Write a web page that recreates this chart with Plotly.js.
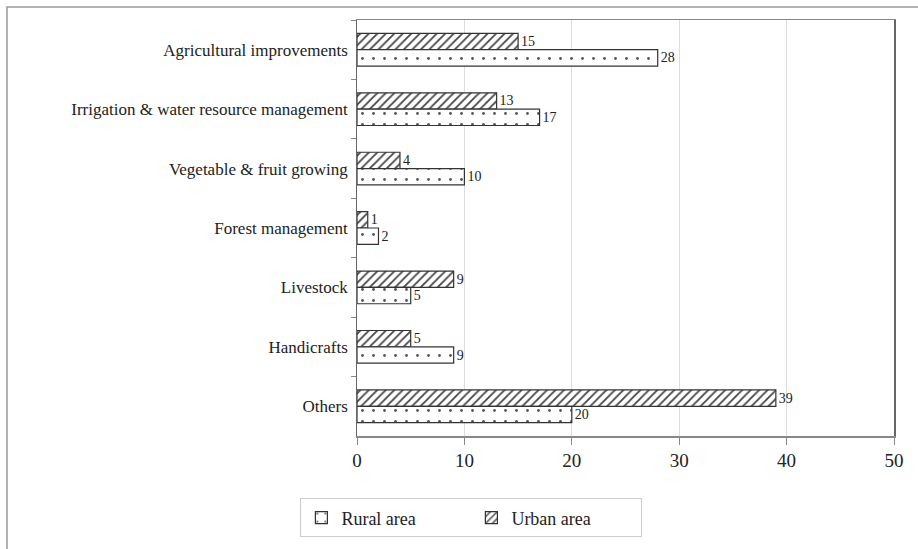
<!DOCTYPE html>
<html>
<head>
<meta charset="utf-8">
<script src="https://cdn.plot.ly/plotly-3.0.1.min.js"></script>
<style>html,body{margin:0;padding:0;background:#fff;}#chart{width:918px;height:549px;}</style>
</head>
<body>
<div id="chart"></div>
<script>
const categories = ["Agricultural improvements", "Irrigation & water resource management", "Vegetable & fruit growing", "Forest management", "Livestock", "Handicrafts", "Others"];
const urbanValues = [15, 13, 4, 1, 9, 5, 39];
const ruralValues = [28, 17, 10, 2, 5, 9, 20];
const xTicks = [0, 10, 20, 30, 40, 50];

const FONT = "Liberation Serif";

const urban = {
  type: "bar", orientation: "h", name: "Urban area",
  y: categories, x: urbanValues,
  text: urbanValues.map(String), textposition: "outside", cliponaxis: false,
  textfont: {family: FONT, size: 14, color: "#222"},
  outsidetextfont: {family: FONT, size: 14, color: "#222"},
  marker: {color: "white", line: {color: "#333", width: 1.2},
    pattern: {shape: "/", fgcolor: "#444", bgcolor: "white", size: 6, solidity: 0.3}},
  legendrank: 2
};
const rural = {
  type: "bar", orientation: "h", name: "Rural area",
  y: categories, x: ruralValues,
  text: ruralValues.map(String), textposition: "outside", cliponaxis: false,
  textfont: {family: FONT, size: 14, color: "#222"},
  outsidetextfont: {family: FONT, size: 14, color: "#222"},
  marker: {color: "white", line: {color: "#333", width: 1.2},
    pattern: {shape: ".", fgcolor: "#555", bgcolor: "white", size: 11, solidity: 0.05}},
  legendrank: 1
};

const layout = {
  width: 918, height: 549,
  margin: {l: 357, r: 24, t: 20, b: 109},
  paper_bgcolor: "white", plot_bgcolor: "white",
  font: {family: FONT, color: "#222"},
  barmode: "group", bargap: 0.45, bargroupgap: 0,
  showlegend: true,
  legend: {orientation: "h", x: 0.213, xanchor: "center", y: -0.15, yanchor: "top",
    bordercolor: "#ccc", borderwidth: 1, font: {family: FONT, size: 18, color: "#222"},
    entrywidth: 125},
  xaxis: {range: [0, 50], tickvals: xTicks, ticktext: xTicks.map(String),
    showgrid: true, gridcolor: "#ddd", gridwidth: 1, zeroline: false,
    showline: true, linecolor: "#888", linewidth: 1.5, mirror: true,
    ticks: "outside", ticklen: 7, tickcolor: "#888",
    tickfont: {family: FONT, size: 19, color: "#222"}, fixedrange: true},
  yaxis: {type: "category", autorange: "reversed",
    showline: true, linecolor: "#666", linewidth: 1.5, mirror: true,
    ticks: "outside", tickson: "boundaries", ticklen: 5, tickcolor: "#888",
    showgrid: false, tickfont: {family: FONT, size: 17, color: "#222"}, ticksuffix: " "},
  shapes: [{type: "rect", xref: "paper", yref: "paper",
    x0: -0.6518, x1: 1.06, y0: -0.4, y1: 1.031,
    line: {color: "#999", width: 1.5}, fillcolor: "rgba(0,0,0,0)"}]
};

Plotly.newPlot("chart", [urban, rural], layout, {displayModeBar: false, staticPlot: true});
</script>
</body>
</html>
